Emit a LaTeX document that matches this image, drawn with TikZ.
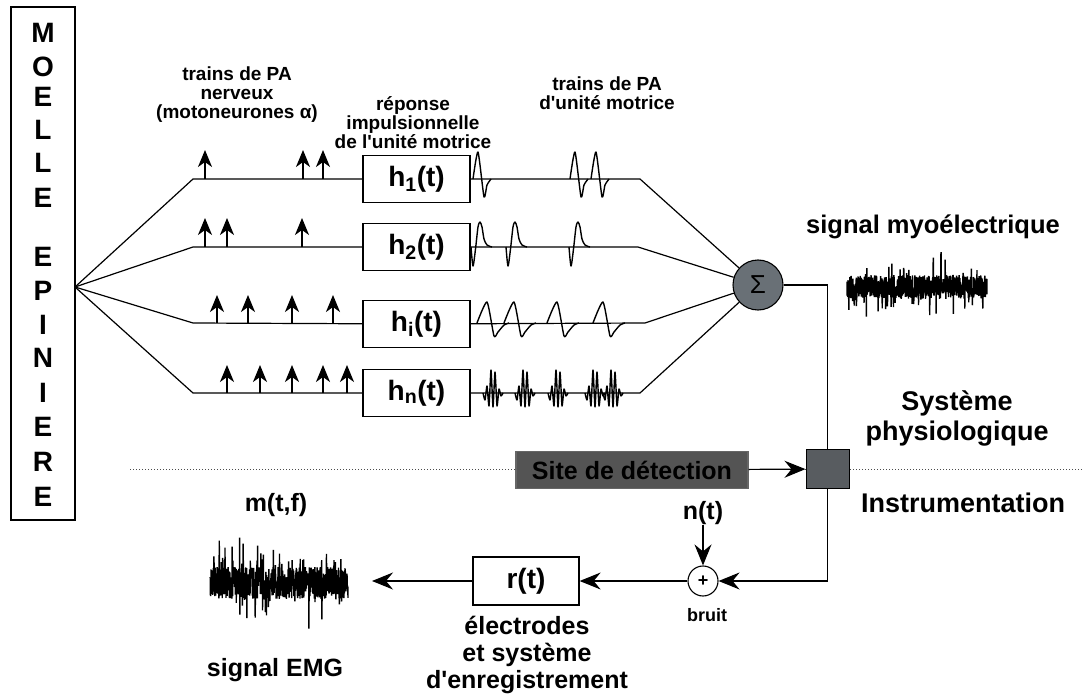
\documentclass[tikz,border=0pt]{standalone}
\usepackage{fontspec}
\setmainfont{Liberation Sans}
\usetikzlibrary{arrows.meta}
\definecolor{sumgray}{RGB}{105,112,118}
\definecolor{sitegray}{RGB}{84,84,84}
\definecolor{detgray}{RGB}{88,92,96}
\tikzset{
  wA/.pic={\draw[wave] plot[smooth,tension=0.35] coordinates {(0,0)(5,-27)(11,18)(14,6)(18,0)};},
  wB/.pic={\draw[wave] plot[smooth,tension=0.45] coordinates {(0,0)(2,19)(4.5,2)(7,-20)(9,-25)(11,-20)(13,-8)(16,-2)(21,0)};},
  wC/.pic={\draw[wave] plot[smooth,tension=0.35] coordinates {(0,0)(10,-21)(17,13)(21,9)(27,2)(32,0)};},
  wD/.pic={\draw[wave] plot[smooth,tension=0.35] coordinates {(0,0)(2,7)(4,-7)(6,13)(8,-23)(10,14)(12,-21)(14,13)(16,-4)(18,3)(20,0)};},
}
\begin{document}
\begin{tikzpicture}[x=1pt,y=-1pt,
  line width=1.2pt,
  lbl/.style={font=\bfseries\fontsize{25}{27}\selectfont, align=center, inner sep=0pt},
  big/.style={font=\bfseries\fontsize{27}{30}\selectfont, align=center, inner sep=0pt},
  sml/.style={font=\bfseries\fontsize{19}{19}\selectfont, align=center, inner sep=0pt},
  hbox/.style={draw, line width=1.3pt, minimum width=107pt, minimum height=47pt, inner sep=0pt, font=\bfseries\fontsize{28}{30}\selectfont},
  stim/.style={-{Stealth[length=17pt,width=14pt,inset=5pt]}, line width=1.7pt},
  flow/.style={-{Stealth[length=21pt,width=17pt,inset=7pt]}, line width=1.2pt},
  wave/.style={line width=1.4pt, line join=round},
  letter/.style={font=\bfseries\fontsize{28}{28}\selectfont, inner sep=0pt},
  noise/.style={line width=1.4pt, line join=bevel},
]
\useasboundingbox (0,0) rectangle (1082,695);

% separation line
\coordinate (dl) at (130,469);
\coordinate (dr) at (1082,469);
\draw[dotted, line width=1pt, black!70] (dl) -- (dr);

% spinal cord box
\node[draw, line width=1.3pt, minimum width=64pt, minimum height=513pt, inner sep=0pt] (moelle) at (43,263.5) {};
\foreach \c/\yy [count=\i] in {M/33,O/67,E/97,L/130,L/163,E/198,E/257,P/291,I/325,N/358,I/393,E/427,R/462,E/497}
  \node[letter] (let\i) at (43,\yy) {\c};

\coordinate (fan) at (75,287);
\coordinate (s1) at (193,179); \coordinate (e1) at (640,179);
\coordinate (s2) at (193,247); \coordinate (e2) at (638,247);
\coordinate (s3) at (193,323); \coordinate (e3) at (645,323);
\coordinate (s4) at (193,393); \coordinate (e4) at (640,393);

\node[hbox] (h1) at (416.5,179) {h\textsubscript{1}(t)};
\node[hbox] (h2) at (416.5,247) {h\textsubscript{2}(t)};
\node[hbox] (hi) at (416.5,324) {h\textsubscript{i}(t)};
\node[hbox] (hn) at (416.5,393) {h\textsubscript{n}(t)};

\node[circle, draw, line width=1.1pt, fill=sumgray, minimum size=50pt, inner sep=0pt, font=\fontsize{26}{26}\selectfont] (sum) at (758,285) {Σ};

\draw (fan) -- (s1) -- (h1);  \draw (h1) -- (e1) -- (sum);
\draw (fan) -- (s2) -- (h2);  \draw (h2) -- (e2) -- (sum);
\draw (fan) -- (s3) -- (hi);  \draw (hi) -- (e3) -- (sum);
\draw (fan) -- (s4) -- (hn);  \draw (hn) -- (e4) -- (sum);

% nerve impulse trains
\foreach \x in {205,303,323} \draw[stim] (\x,179) -- ++(0,-29);
\foreach \x in {205,227,302} \draw[stim] (\x,247) -- ++(0,-29);
\foreach \x in {217,248,292,333} \draw[stim] (\x,323) -- ++(0,-28);
\foreach \x in {227,260,292,323,347} \draw[stim] (\x,393) -- ++(0,-28);

% motor unit action potentials
\foreach \x in {473,570,591} \pic at (\x,179) {wA};
\foreach \x in {471,506,569} \pic at (\x,247) {wB};
\foreach \x in {477,504,547,593} \pic at (\x,323) {wC};
\foreach \x in {483,515,548,585,603} \pic at (\x,393) {wD};

% top labels
\node[sml] (t1) at (237,95) {trains de PA\\nerveux\\(motoneurones α)};
\node[sml] (t2) at (413,123) {réponse\\impulsionnelle\\de l\textquotesingle unité motrice};
\node[sml] (t3) at (607,93) {trains de PA\\d\textquotesingle unité motrice};

% myoelectric signal
\node[lbl, font=\bfseries\fontsize{25.5}{28}\selectfont] (myo) at (933,227) {signal myoélectrique};
\pgfmathsetseed{7}
\draw[noise] plot[domain=847:987, samples=700] (\x,{287+12*rand+(rnd>0.85)*26*rand});

% detection
\coordinate (c1) at (827.5,285);
\node[draw, line width=1pt, fill=detgray, minimum width=43pt, minimum height=39pt, inner sep=0pt] (det) at (827.5,469) {};
\node[draw=black!60, fill=sitegray, minimum width=232pt, minimum height=37pt, inner sep=0pt, font=\bfseries\fontsize{25}{28}\selectfont] (site) at (632,470) {Site de détection};
\draw (sum) -- (c1) -- (det);
\draw[flow] (site) -- (det);

\node[big] (sys) at (957,418) {Système\\physiologique};
\node[big] (inst) at (963,503) {Instrumentation};

% instrumentation chain
\coordinate (c2) at (827.5,581);
\node[circle, draw, line width=1.1pt, minimum size=30pt, inner sep=0pt, font=\bfseries\fontsize{18}{18}\selectfont] (plus) at (703,581) {+};
\node[lbl] (nt) at (703,513) {n(t)};
\node[font=\bfseries\fontsize{18}{18}\selectfont, inner sep=0pt] (bruit) at (707,615) {bruit};
\node[draw, line width=1.3pt, minimum width=106pt, minimum height=48pt, inner sep=0pt, font=\bfseries\fontsize{28}{30}\selectfont] (r) at (526,581) {r(t)};
\coordinate (out) at (372,581);
\draw (det) -- (c2);
\draw[flow] (c2) -- (plus);
\draw[flow] (nt) -- (plus);
\draw[flow] (plus) -- (r);
\draw[flow] (r) -- (out);
\node[lbl] (elec) at (527,655) {électrodes\\et système\\d\textquotesingle enregistrement};

% EMG signal
\node[lbl] (mtf) at (276,505) {m(t,f)};
\pgfmathsetseed{11}
\draw[noise] plot[domain=210:348, samples=700] (\x,{583+16*rand+(rnd>0.85)*32*rand});
\node[lbl] (emg) at (275,670) {signal EMG};
\end{tikzpicture}
\end{document}
